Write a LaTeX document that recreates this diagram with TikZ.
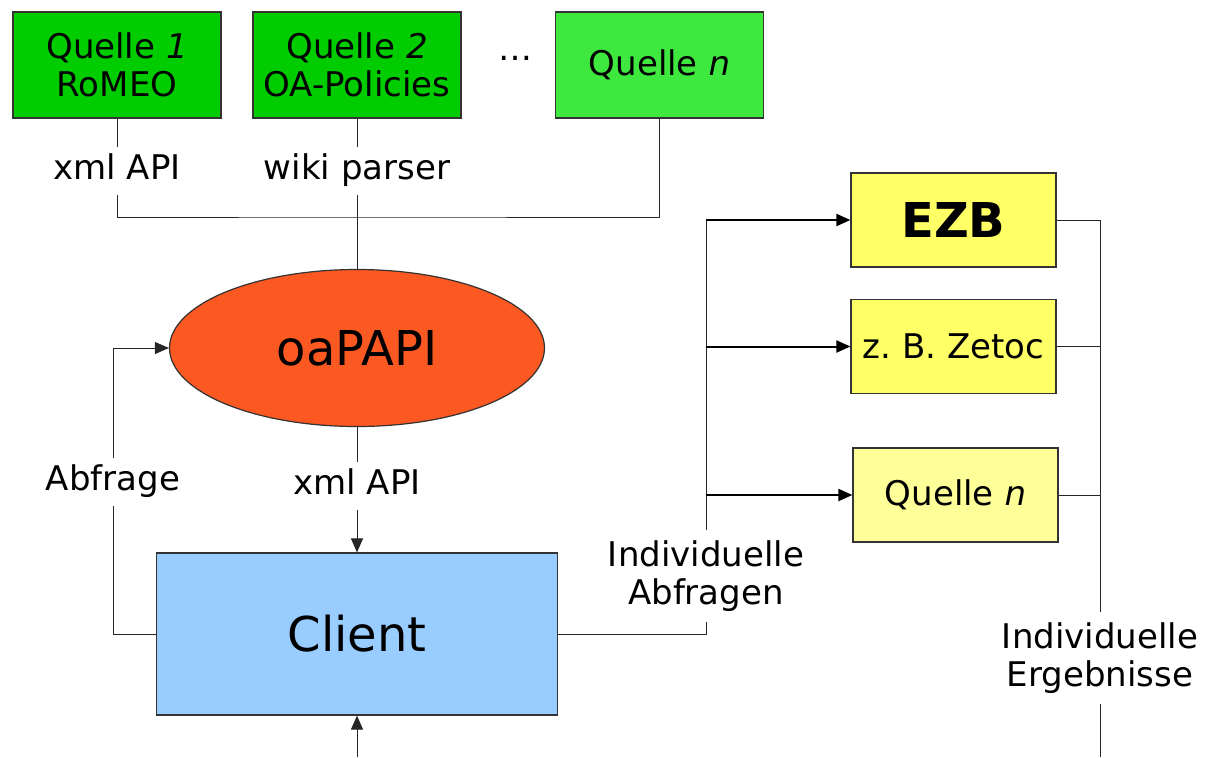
\documentclass[tikz,border=0pt]{standalone}
\usepackage{fontspec}
\setmainfont{DejaVu Sans}
\usepackage{tikz}
\usetikzlibrary{
	shapes.geometric,
	positioning,
	arrows.meta
}
\frenchspacing

\definecolor{srcgreen}{RGB}{0,204,0}
\definecolor{srclight}{RGB}{62,232,62}
\definecolor{apired}{RGB}{252,88,34}
\definecolor{clientblue}{RGB}{153,204,255}
\definecolor{dbyellow}{RGB}{255,255,102}
\definecolor{dblight}{RGB}{255,255,153}

\tikzset{
	txt/.style={font=\fontsize{17}{19}\selectfont},
	big/.style={font=\fontsize{24}{28}\selectfont},
	bigbold/.style={font=\fontsize{24}{28}\selectfont\bfseries},
	box/.style={txt,draw=black!80,line width=0.6pt,inner sep=0pt,align=center},
	src/.style={box,fill=srcgreen,minimum width=104pt,minimum height=53pt},
	db/.style={box,fill=dbyellow,minimum width=102.5pt,minimum height=47pt},
	lab/.style={txt,inner sep=4pt,text height=12pt,text depth=4pt},
	lab2/.style={txt,inner sep=5pt,align=center},
	link/.style={line width=0.5pt,draw=black!85},
	arr/.style={link,-{Triangle[length=7pt,width=6pt]}},
	fat/.style={line width=1pt,-{Triangle[length=7pt,width=6pt]}}
}

\begin{document}
\begin{tikzpicture}[x=0.5pt,y=-0.5pt]
		\useasboundingbox (0,0) rectangle (1207,757);

		% sources on top
		\draw
			node[src] at (117,65)                  (q1)   {Quelle \textit{1}\\RoMEO}
			node[src] at (357,65)                  (q2)   {Quelle \textit{2}\\OA-Policies}
			node[txt] at (515,58)                  (dots) {…}
			node[src,fill=srclight] at (659.5,65)  (qn)   {Quelle \textit{n}}
			node[lab] at (117,171)                 (apiA) {xml API}
			node[lab] at (357,171)                 (wiki) {wiki parser}
		;
		\coordinate (bus) at (357,217);

		% middle column
		\draw
			node[ellipse,draw=black!80,line width=0.6pt,fill=apired,big,
				minimum width=187.5pt,minimum height=78.5pt,inner sep=0pt]
				at (357,348)                       (oa)     {oaPAPI}
			node[box,big,fill=clientblue,minimum width=200.5pt,minimum height=81pt]
				at (357,634)                       (client) {Client}
			node[lab] at (113,482)                 (abfr)   {Abfrage}
			node[lab] at (357,486)                 (apiB)   {xml API}
		;
		\coordinate (in) at (357,757);

		% individual sources
		\draw
			node[db,bigbold] at (953.5,220)             (ezb)   {EZB}
			node[db] at (953.5,346.5)                   (zetoc) {z. B. Zetoc}
			node[db,fill=dblight] at (955.5,495)        (qn2)   {Quelle \textit{n}}
			node[lab2] at (706,576)                     (indA)  {Individuelle\\Abfragen}
			node[lab2] at (1100,658)                    (indE)  {Individuelle\\Ergebnisse}
		;
		\coordinate (fork) at (706,220);
		\coordinate (out)  at (1100,757);

		\draw[link] (q1) -- (apiA);
		\draw[link] (q2) -- (wiki);
		\draw[link] (apiA.south) |- (bus) -| (qn.south);
		\draw[link] (wiki) -- (oa);

		\draw[link] (oa) -- (apiB);
		\draw[arr]  (apiB) -- (client);
		\draw[link] (client.west) -| (abfr.south);
		\draw[arr]  (abfr.north) |- (oa.west);
		\draw[arr]  (in) -- (client.south);

		\draw[link] (client.east) -| (indA.south);
		\draw[link] (indA.north) -- (fork);
		\draw[fat]  (fork) -- (ezb.west);
		\draw[fat]  (fork |- zetoc.west) -- (zetoc.west);
		\draw[fat]  (fork |- qn2.west) -- (qn2.west);

		\draw[link] (ezb.east) -| (indE.north);
		\draw[link] (zetoc.east) -- (zetoc.east -| indE.north);
		\draw[link] (qn2.east) -- (qn2.east -| indE.north);
		\draw[link] (indE.south) -- (out);
\end{tikzpicture}
\end{document}
